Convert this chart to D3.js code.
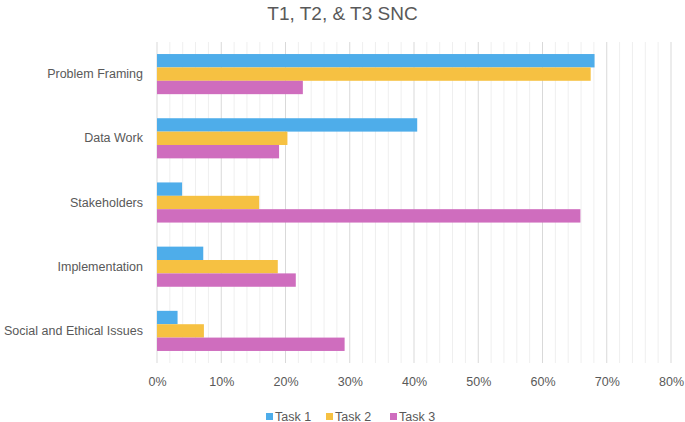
<!DOCTYPE html>
<html lang="en">
<head>
<meta charset="UTF-8">
<title>T1, T2, & T3 SNC</title>
<script src="https://cdn.jsdelivr.net/npm/d3@7"></script>
<style>
  body { margin: 0; background: #fff; }
  svg text { font-family: "Liberation Sans", Arial, sans-serif; fill: #595959; }
</style>
</head>
<body>
<div id="fig"></div>
<script>
// data
const categories = ["Problem Framing", "Data Work", "Stakeholders", "Implementation", "Social and Ethical Issues"]
const seriesNames = ["Task 1", "Task 2", "Task 3"]
const task1 = [0.681, 0.405, 0.039, 0.072, 0.032]
const task2 = [0.675, 0.203, 0.159, 0.188, 0.073]
const task3 = [0.227, 0.190, 0.659, 0.216, 0.292]
const colors = ["#4EADEA", "#F6C142", "#CF6DBE"]
const xTicks = [0, 0.1, 0.2, 0.3, 0.4, 0.5, 0.6, 0.7, 0.8]

const W = 685, H = 422
const plot = {left: 157, right: 671, top: 42, bottom: 363}

let svg = d3.select("#fig").append("svg")
    .attr("width", W).attr("height", H)

const x = d3.scaleLinear().domain([0, 0.8]).range([plot.left, plot.right])
const y = d3.scaleBand().domain(categories).range([plot.top, plot.bottom]).paddingInner(0.375).paddingOuter(0.1875)
const ySub = d3.scaleBand().domain(seriesNames).range([0, y.bandwidth()])

// minor grid every 2%
svg.append("g").selectAll("line")
    .data(d3.range(0, 0.8001, 0.02).filter(d => Math.abs(d * 10 - Math.round(d * 10)) > 1e-6))
    .enter().append("line")
    .attr("x1", d => x(d)).attr("x2", d => x(d))
    .attr("y1", plot.top).attr("y2", plot.bottom)
    .attr("stroke", "#efefef").attr("stroke-width", 1)

// major grid
svg.append("g").selectAll("line")
    .data(xTicks)
    .enter().append("line")
    .attr("x1", d => x(d)).attr("x2", d => x(d))
    .attr("y1", plot.top).attr("y2", plot.bottom)
    .attr("stroke", "#d9d9d9").attr("stroke-width", 1)

const rows = categories.map((c, i) => ({cat: c, vals: [task1[i], task2[i], task3[i]]}))

let groups = svg.selectAll(".grp").data(rows).enter().append("g")
    .attr("class", "grp")
    .attr("transform", d => `translate(0,${y(d.cat)})`)

groups.selectAll("rect")
    .data(d => d.vals.map((v, j) => ({v: v, s: seriesNames[j], c: colors[j]})))
    .enter().append("rect")
    .attr("x", x(0))
    .attr("y", d => ySub(d.s))
    .attr("width", d => x(d.v) - x(0))
    .attr("height", ySub.bandwidth())
    .attr("fill", d => d.c)

// x axis labels
const xAxis = svg.append("g")
    .attr("transform", `translate(0,${plot.bottom})`)
    .call(d3.axisBottom(x).tickValues(xTicks).tickFormat(d3.format(".0%")).tickSize(0).tickPadding(14))
xAxis.select(".domain").remove()
xAxis.selectAll("text").style("font-size", "12.5px").style("fill", "#595959")
    .style("font-family", '"Liberation Sans", Arial, sans-serif')

// y axis labels
const yAxis = svg.append("g")
    .attr("transform", `translate(${plot.left},0)`)
    .call(d3.axisLeft(y).tickSize(0).tickPadding(14))
yAxis.select(".domain").remove()
yAxis.selectAll("text").style("font-size", "12.5px").style("fill", "#595959")
    .style("font-family", '"Liberation Sans", Arial, sans-serif')

// title
svg.append("text")
    .attr("x", 342.5).attr("y", 20)
    .attr("text-anchor", "middle")
    .style("font-family", '"Liberation Sans Narrow", "Liberation Sans", Arial, sans-serif')
    .style("font-size", "19px")
    .text("T1, T2, & T3 SNC")

// legend
const legendX = [266, 326, 390]
let legend = svg.append("g").selectAll("g").data(seriesNames).enter().append("g")
    .attr("transform", (d, i) => `translate(${legendX[i]},413)`)
legend.append("rect").attr("width", 7).attr("height", 7).attr("fill", (d, i) => colors[i])
legend.append("text").attr("x", 9).attr("y", 7.5)
    .style("font-size", "12.5px").text(d => d)
</script>
</body>
</html>
